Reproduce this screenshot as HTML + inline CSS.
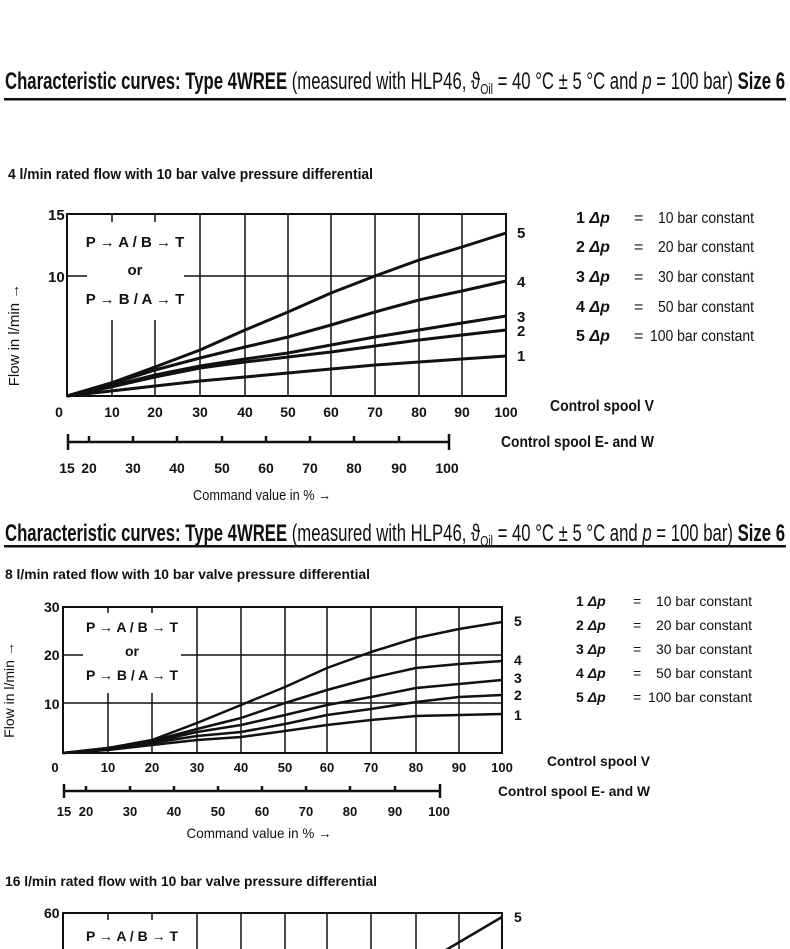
<!DOCTYPE html>
<html><head><meta charset="utf-8"><style>
html,body{margin:0;padding:0;background:#fff;}
svg{display:block;}
text{font-family:"Liberation Sans",sans-serif;fill:#111;}
.b{font-weight:bold;}
</style></head><body>
<svg width="790" height="949" viewBox="0 0 790 949" xmlns="http://www.w3.org/2000/svg">
<!-- Header 1 -->
<text x="5" y="89" font-size="24" textLength="780" lengthAdjust="spacingAndGlyphs"><tspan class="b">Characteristic curves: Type 4WREE</tspan> (measured with HLP46, ϑ<tspan font-size="15" dy="5">Oil</tspan><tspan dy="-5"> = 40 °C ± 5 °C and </tspan><tspan font-style="italic">p</tspan> = 100 bar)    <tspan class="b">Size 6</tspan></text>
<rect x="4" y="98" width="782" height="2.5" fill="#111"/>
<text x="8" y="179" font-size="15" class="b" textLength="365" lengthAdjust="spacingAndGlyphs">4 l/min rated flow with 10 bar valve pressure differential</text>

<!-- Chart 1 -->
<g stroke="#111" stroke-width="1.5" fill="none">
<path d="M112 214V396M155 214V396M200 214V396M245 214V396M288 214V396M331 214V396M375 214V396M419 214V396M462 214V396M67 276H506"/>
</g>
<rect x="87" y="222" width="97" height="98" fill="#fff"/>
<rect x="67" y="214" width="439" height="182" fill="none" stroke="#111" stroke-width="2"/>
<text x="135" y="247" font-size="15" class="b" text-anchor="middle">P → A / B → T</text>
<text x="135" y="275" font-size="15" class="b" text-anchor="middle">or</text>
<text x="135" y="304" font-size="15" class="b" text-anchor="middle">P → B / A → T</text>
<g stroke="#111" stroke-width="3" fill="none" stroke-linejoin="round">
<polyline points="67,396 111,383 155,367 200,350 245,330 288,312 331,293 375,276 419,260 462,247 506,233"/>
<polyline points="67,396 111,384 155,370 200,358 245,347 288,337 331,325 375,312 419,300 462,291 506,281"/>
<polyline points="67,396 111,386 155,375 200,366 245,359 288,353 331,345 375,337 419,330 462,323 506,316"/>
<polyline points="67,396 111,387 155,377 200,368 245,362 288,357 331,352 375,346 419,340 462,335 506,330"/>
<polyline points="67,396 111,391 155,386 200,381 245,377 288,373 331,369 375,365 419,362 462,359 506,356"/>
</g>
<g font-size="15" class="b">
<text x="48" y="220">15</text><text x="48" y="282">10</text>
<text x="517" y="238">5</text><text x="517" y="287">4</text><text x="517" y="322">3</text><text x="517" y="336">2</text><text x="517" y="361">1</text>
</g>
<g font-size="14" class="b" text-anchor="middle">
<text x="59" y="417">0</text><text x="112" y="417">10</text><text x="155" y="417">20</text><text x="200" y="417">30</text><text x="245" y="417">40</text><text x="288" y="417">50</text><text x="331" y="417">60</text><text x="375" y="417">70</text><text x="419" y="417">80</text><text x="462" y="417">90</text><text x="506" y="417">100</text>
</g>
<g stroke="#111" stroke-width="2.5" fill="none">
<path d="M68 442H449M68 434V450M449 434V450M89 436V442M133 436V442M177 436V442M222 436V442M266 436V442M310 436V442M354 436V442M399 436V442"/>
</g>
<g font-size="14" class="b" text-anchor="middle">
<text x="67" y="473">15</text><text x="89" y="473">20</text><text x="133" y="473">30</text><text x="177" y="473">40</text><text x="222" y="473">50</text><text x="266" y="473">60</text><text x="310" y="473">70</text><text x="354" y="473">80</text><text x="399" y="473">90</text><text x="447" y="473">100</text>
</g>
<text x="262" y="500" font-size="15" text-anchor="middle" textLength="138" lengthAdjust="spacingAndGlyphs">Command value in % →</text>
<text transform="translate(19,335) rotate(-90)" font-size="15" text-anchor="middle">Flow in l/min →</text>
<g font-size="16">
<text x="576" y="223" class="b">1 <tspan font-style="italic">Δp</tspan></text><text x="634" y="223">=</text><text x="754" y="223" text-anchor="end" textLength="96" lengthAdjust="spacingAndGlyphs">10 bar constant</text>
<text x="576" y="252" class="b">2 <tspan font-style="italic">Δp</tspan></text><text x="634" y="252">=</text><text x="754" y="252" text-anchor="end" textLength="96" lengthAdjust="spacingAndGlyphs">20 bar constant</text>
<text x="576" y="282" class="b">3 <tspan font-style="italic">Δp</tspan></text><text x="634" y="282">=</text><text x="754" y="282" text-anchor="end" textLength="96" lengthAdjust="spacingAndGlyphs">30 bar constant</text>
<text x="576" y="312" class="b">4 <tspan font-style="italic">Δp</tspan></text><text x="634" y="312">=</text><text x="754" y="312" text-anchor="end" textLength="96" lengthAdjust="spacingAndGlyphs">50 bar constant</text>
<text x="576" y="341" class="b">5 <tspan font-style="italic">Δp</tspan></text><text x="634" y="341">=</text><text x="754" y="341" text-anchor="end" textLength="104" lengthAdjust="spacingAndGlyphs">100 bar constant</text>
</g>
<text x="550" y="411" font-size="16" class="b" textLength="104" lengthAdjust="spacingAndGlyphs">Control spool V</text>
<text x="501" y="447" font-size="16" class="b" textLength="153" lengthAdjust="spacingAndGlyphs">Control spool E- and W</text>

<!-- Header 2 -->
<text x="5" y="541" font-size="24" textLength="780" lengthAdjust="spacingAndGlyphs"><tspan class="b">Characteristic curves: Type 4WREE</tspan> (measured with HLP46, ϑ<tspan font-size="15" dy="5">Oil</tspan><tspan dy="-5"> = 40 °C ± 5 °C and </tspan><tspan font-style="italic">p</tspan> = 100 bar)    <tspan class="b">Size 6</tspan></text>
<rect x="4" y="545" width="782" height="2.5" fill="#111"/>
<text x="5" y="579" font-size="14" class="b" textLength="365" lengthAdjust="spacingAndGlyphs">8 l/min rated flow with 10 bar valve pressure differential</text>

<!-- Chart 2 -->
<g stroke="#111" stroke-width="1.5" fill="none">
<path d="M108 607V753M152 607V753M197 607V753M241 607V753M285 607V753M327 607V753M371 607V753M416 607V753M459 607V753M63 655H502M63 703H502"/>
</g>
<rect x="83" y="613" width="98" height="80" fill="#fff"/>
<rect x="63" y="607" width="439" height="146" fill="none" stroke="#111" stroke-width="2"/>
<text x="132" y="632" font-size="14" class="b" text-anchor="middle">P → A / B → T</text>
<text x="132" y="656" font-size="14" class="b" text-anchor="middle">or</text>
<text x="132" y="680" font-size="14" class="b" text-anchor="middle">P → B / A → T</text>
<g stroke="#111" stroke-width="2.5" fill="none" stroke-linejoin="round">
<polyline points="63,753 108,748 152,740 197,723 241,705 285,687 327,668 371,652 416,638 459,629 502,622"/>
<polyline points="63,753 108,748 152,741 197,729 241,718 285,703 327,690 371,678 416,668 459,664 502,661"/>
<polyline points="63,753 108,749 152,742 197,732 241,725 285,715 327,705 371,697 416,688 459,684 502,680"/>
<polyline points="63,753 108,749 152,743 197,736 241,732 285,724 327,715 371,709 416,702 459,697 502,695"/>
<polyline points="63,753 108,750 152,745 197,740 241,737 285,731 327,725 371,720 416,716 459,715 502,714"/>
</g>
<g font-size="14" class="b">
<text x="44" y="612">30</text><text x="44" y="660">20</text><text x="44" y="709">10</text>
<text x="514" y="626">5</text><text x="514" y="665">4</text><text x="514" y="683">3</text><text x="514" y="700">2</text><text x="514" y="720">1</text>
</g>
<g font-size="13" class="b" text-anchor="middle">
<text x="55" y="772">0</text><text x="108" y="772">10</text><text x="152" y="772">20</text><text x="197" y="772">30</text><text x="241" y="772">40</text><text x="285" y="772">50</text><text x="327" y="772">60</text><text x="371" y="772">70</text><text x="416" y="772">80</text><text x="459" y="772">90</text><text x="502" y="772">100</text>
</g>
<g stroke="#111" stroke-width="2.5" fill="none">
<path d="M64 791H440M64 784V798M440 784V798M86 786V791M130 786V791M174 786V791M218 786V791M262 786V791M306 786V791M350 786V791M395 786V791"/>
</g>
<g font-size="13" class="b" text-anchor="middle">
<text x="64" y="816">15</text><text x="86" y="816">20</text><text x="130" y="816">30</text><text x="174" y="816">40</text><text x="218" y="816">50</text><text x="262" y="816">60</text><text x="306" y="816">70</text><text x="350" y="816">80</text><text x="395" y="816">90</text><text x="439" y="816">100</text>
</g>
<text x="259" y="838" font-size="14" text-anchor="middle" textLength="145" lengthAdjust="spacingAndGlyphs">Command value in % →</text>
<text transform="translate(14,690) rotate(-90)" font-size="14" text-anchor="middle">Flow in l/min →</text>
<g font-size="14">
<text x="576" y="606" class="b">1 <tspan font-style="italic">Δp</tspan></text><text x="633" y="606">=</text><text x="752" y="606" text-anchor="end" textLength="96" lengthAdjust="spacingAndGlyphs">10 bar constant</text>
<text x="576" y="630" class="b">2 <tspan font-style="italic">Δp</tspan></text><text x="633" y="630">=</text><text x="752" y="630" text-anchor="end" textLength="96" lengthAdjust="spacingAndGlyphs">20 bar constant</text>
<text x="576" y="654" class="b">3 <tspan font-style="italic">Δp</tspan></text><text x="633" y="654">=</text><text x="752" y="654" text-anchor="end" textLength="96" lengthAdjust="spacingAndGlyphs">30 bar constant</text>
<text x="576" y="678" class="b">4 <tspan font-style="italic">Δp</tspan></text><text x="633" y="678">=</text><text x="752" y="678" text-anchor="end" textLength="96" lengthAdjust="spacingAndGlyphs">50 bar constant</text>
<text x="576" y="702" class="b">5 <tspan font-style="italic">Δp</tspan></text><text x="633" y="702">=</text><text x="752" y="702" text-anchor="end" textLength="104" lengthAdjust="spacingAndGlyphs">100 bar constant</text>
</g>
<text x="547" y="766" font-size="14" class="b" textLength="103" lengthAdjust="spacingAndGlyphs">Control spool V</text>
<text x="498" y="796" font-size="14" class="b" textLength="152" lengthAdjust="spacingAndGlyphs">Control spool E- and W</text>

<!-- Chart 3 -->
<text x="5" y="886" font-size="14" class="b" textLength="372" lengthAdjust="spacingAndGlyphs">16 l/min rated flow with 10 bar valve pressure differential</text>
<g stroke="#111" stroke-width="1.5" fill="none">
<path d="M108 913V920M152 913V920M197 913V949M241 913V949M285 913V949M327 913V949M371 913V949M416 913V949M459 913V949"/>
</g>
<path d="M63 949V913H502V949" fill="none" stroke="#111" stroke-width="2"/>
<text x="132" y="941" font-size="14" class="b" text-anchor="middle">P → A / B → T</text>
<line x1="446" y1="950" x2="502" y2="917" stroke="#111" stroke-width="2.5"/>
<text x="44" y="918" font-size="14" class="b">60</text>
<text x="514" y="922" font-size="14" class="b">5</text>
</svg>
</body></html>
